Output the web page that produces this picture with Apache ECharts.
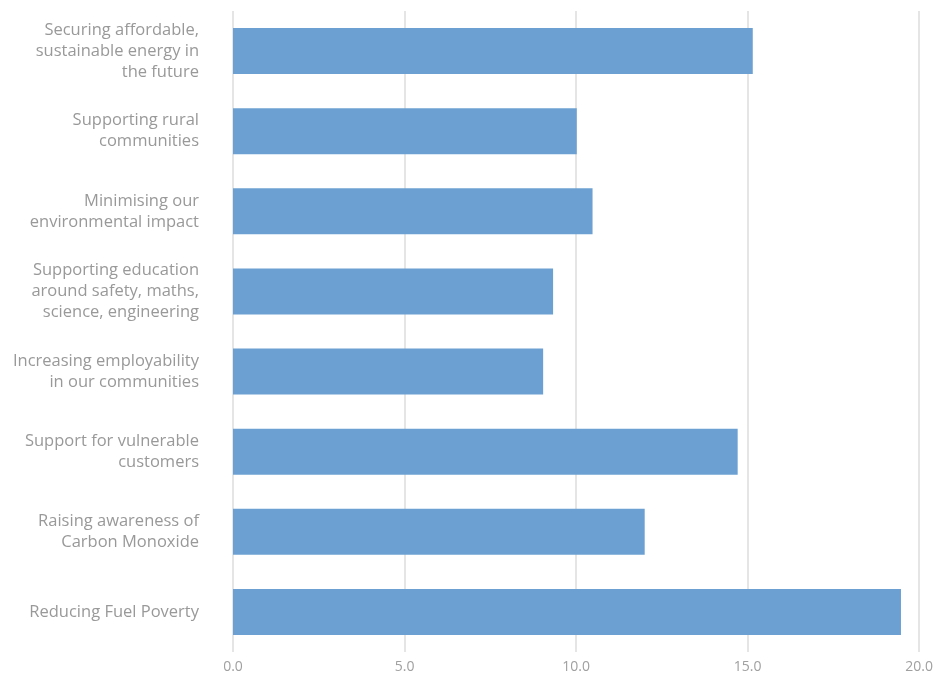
<!DOCTYPE html>
<html>
<head>
<meta charset="utf-8">
<script src="https://cdn.jsdelivr.net/npm/echarts@6/dist/echarts.min.js"></script>
<style>
html,body{margin:0;padding:0;background:#fff;}
#chart{width:936px;height:677px;}
</style>
</head>
<body>
<div id="chart"></div>
<script>
var categories = [
  "Securing affordable,\nsustainable energy in\nthe future",
  "Supporting rural\ncommunities",
  "Minimising our\nenvironmental impact",
  "Supporting education\naround safety, maths,\nscience, engineering",
  "Increasing employability\nin our communities",
  "Support for vulnerable\ncustomers",
  "Raising awareness of\nCarbon Monoxide",
  "Reducing Fuel Poverty"
];
var values = [15.15, 10.02, 10.48, 9.33, 9.04, 14.71, 12.0, 19.47];
var xMin = 0, xMax = 20, xStep = 5;

var chart = echarts.init(document.getElementById('chart'));
chart.setOption({
  animation: false,
  grid: {left: 233, right: 15, top: 11, bottom: 25, containLabel: false},
  xAxis: {
    type: 'value', min: xMin, max: xMax, interval: xStep,
    axisLine: {show: false}, axisTick: {show: false},
    splitLine: {show: true, lineStyle: {color: '#dcdcdc', width: 1.5}},
    axisLabel: {color: '#a0a0a0', fontSize: 14, fontFamily: 'Open Sans', margin: 8,
      formatter: function(v){ return v.toFixed(1); }}
  },
  yAxis: {
    type: 'category', data: categories, inverse: true,
    axisLine: {show: false}, axisTick: {show: false},
    axisLabel: {color: '#999999', fontSize: 16.5, fontFamily: 'Open Sans', margin: 34,
      align: 'right', lineHeight: 21}
  },
  series: [{
    type: 'bar', data: values, barWidth: '57.5%',
    itemStyle: {color: '#6ca0d2'}
  }]
});
</script>
</body>
</html>
